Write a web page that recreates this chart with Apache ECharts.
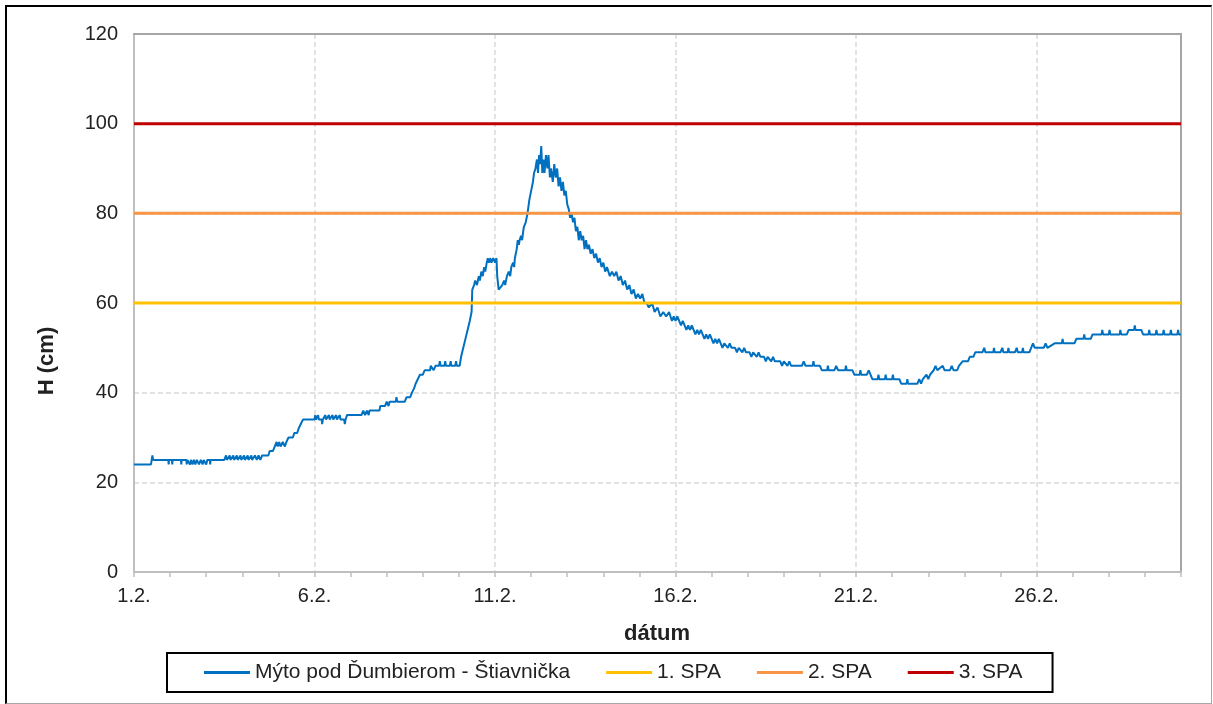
<!DOCTYPE html>
<html><head><meta charset="utf-8">
<script src="https://cdn.jsdelivr.net/npm/echarts@6/dist/echarts.min.js"></script>
<style>
html,body{margin:0;padding:0;background:#fff;}
#c{position:absolute;left:0;top:0;width:1213px;height:704px;}
#frame{position:absolute;left:5px;top:5px;width:1207px;height:699px;box-sizing:border-box;border-top:2px solid #000;border-left:2px solid #000;border-right:1px solid #a6a6a6;border-bottom:1px solid #a6a6a6;pointer-events:none;}
</style></head><body>
<div id="c"></div><div id="frame"></div>
<script>
// x = days after 1.2. ; y = water level H (cm)
const tickLabels = ['1.2.', '6.2.', '11.2.', '16.2.', '21.2.', '26.2.'];
const seriesName = 'Mýto pod Ďumbierom - Štiavnička';
const spaNames = ['1. SPA', '2. SPA', '3. SPA'];
const spaLevels = [60, 80, 100];
const spaColors = ['#FFC000', '#F79646', '#C00000'];

const levelSeries = [
[0,24],[0.47,24],[0.49,25],[0.51,26],[0.53,25],[0.95,25],[0.96,24],[0.97,25],[1.05,25],[1.06,24],[1.07,25],
[1.3,25],[1.31,24],[1.32,25],[1.45,25],[1.46,24],[1.48,25],[1.55,24],[1.58,25],[1.62,24],[1.66,25],[1.7,24],
[1.74,25],[1.8,24],[1.85,25],[1.9,24],[1.93,25],[2.0,24],[2.03,25],[2.1,25],[2.11,24],[2.12,25],[2.5,25],
[2.55,26],[2.57,25],[2.65,26],[2.67,25],[2.75,26],[2.77,25],[2.85,26],[2.87,25],[2.95,26],[2.97,25],[3.05,26],
[3.07,25],[3.15,26],[3.17,25],[3.25,26],[3.27,25],[3.35,26],[3.4,25],[3.45,26],[3.5,25],[3.55,26],[3.72,26],
[3.76,27],[3.85,27],[3.9,28],[3.95,29],[3.98,28],[4.02,29],[4.06,28],[4.12,29],[4.18,28],[4.22,29],[4.28,30],
[4.4,30],[4.44,31],[4.52,31],[4.56,32],[4.62,33],[4.68,34],[5.0,34],[5.02,35],[5.04,34],[5.1,35],[5.12,34],
[5.2,34],[5.21,33],[5.23,34],[5.3,35],[5.32,34],[5.4,35],[5.42,34],[5.5,35],[5.52,34],[5.6,35],[5.62,34],
[5.7,35],[5.72,34],[5.82,34],[5.84,33],[5.86,34],[5.9,35],[6.3,35],[6.35,36],[6.4,35],[6.45,36],[6.5,35],
[6.52,36],[6.8,36],[6.82,37],[6.95,37],[7.0,38],[7.05,37],[7.08,38],[7.25,38],[7.27,39],[7.29,38],[7.5,38],
[7.55,39],[7.65,39],[7.7,40],[7.76,41],[7.8,42],[7.86,43],[7.92,44],[8.0,44],[8.05,45],[8.2,45],[8.22,46],
[8.3,45],[8.35,46],[8.45,46],[8.47,47],[8.49,46],[8.6,46],[8.62,47],[8.64,46],[8.75,46],[8.77,47],[8.79,46],
[8.9,46],[8.92,47],[8.94,46],[9.02,46],[9.06,48],[9.12,50],[9.18,52],[9.24,54],[9.3,56],[9.35,58],[9.37,63],
[9.42,64],[9.45,65],[9.5,64],[9.55,66],[9.58,65],[9.62,67],[9.66,66],[9.7,68],[9.73,67],[9.77,69],[9.8,70],
[9.83,69],[9.87,70],[9.9,69],[9.95,70],[10.0,69],[10.04,70],[10.06,66],[10.1,63],[10.15,63],[10.2,64],
[10.25,65],[10.28,64],[10.33,66],[10.38,67],[10.42,66],[10.45,68],[10.5,69],[10.53,68],[10.55,70],[10.6,72],
[10.63,74],[10.66,73],[10.68,74],[10.72,75],[10.75,74],[10.78,76],[10.8,77],[10.85,78],[10.9,80],[10.95,83],
[11.0,85],[11.05,87],[11.08,89],[11.12,90],[11.16,92],
[11.19,89],[11.22,93],[11.25,91],[11.28,95],[11.31,89],[11.34,92],[11.37,89],[11.41,93],[11.45,90],[11.48,93],
[11.52,88],[11.55,90],[11.6,87],[11.64,91],[11.68,88],[11.72,90],[11.76,86],[11.8,88],[11.84,85],[11.88,87],
[11.92,84],[11.96,85],[12.0,82],[12.04,81],[12.08,79],[12.12,80],[12.16,78],[12.2,79],[12.24,76],[12.28,77],
[12.32,74],[12.36,76],[12.4,74],[12.44,75],[12.48,72],[12.52,74],[12.56,72],[12.6,73],[12.65,71],[12.7,72],
[12.75,70],[12.8,71],[12.85,69],[12.9,70],[12.95,68],[13.0,69],[13.05,67],[13.1,68],[13.18,66],[13.24,67],
[13.3,66],[13.36,67],[13.42,65],[13.48,66],[13.54,64],[13.6,65],[13.66,63],[13.72,64],[13.78,62],[13.84,63],
[13.9,61],[13.96,62],[14.02,61],[14.08,62],[14.14,60],[14.2,60],[14.26,59],[14.35,60],[14.42,58],[14.5,59],
[14.58,57],[14.66,58],[14.74,57],[14.82,58],
[14.9,56],[14.95,57],[15.0,56],[15.05,57],[15.1,56],[15.15,55],[15.2,56],[15.25,55],[15.3,54],[15.35,55],
[15.4,54],[15.45,55],[15.5,54],[15.55,53],[15.6,54],[15.65,53],[15.7,54],[15.75,53],[15.8,52],[15.85,53],
[15.9,52],[15.95,53],[16.0,52],[16.05,51],[16.1,52],[16.15,51],[16.2,52],[16.25,51],[16.3,50],[16.35,51],
[16.45,50],[16.5,51],[16.55,50],[16.65,50],[16.7,49],[16.75,50],[16.85,49],[16.9,50],[16.95,49],[17.05,49],
[17.1,48],[17.15,49],[17.25,48],[17.3,49],[17.35,48],[17.45,48],[17.5,47],[17.55,48],[17.65,47],[17.7,48],
[17.75,47],[17.9,47],[17.95,46],[18.0,47],[18.1,46],[18.15,47],[18.2,46],[18.5,46],
[18.55,47],[18.6,46],[18.8,46],[18.82,47],[18.84,46],[19.0,46],[19.05,45],[19.2,45],[19.22,46],[19.24,45],
[19.4,45],[19.45,46],[19.5,45],[19.7,45],[19.72,46],[19.74,45],[19.9,45],[19.95,44],[20.1,44],[20.12,45],
[20.14,44],[20.3,44],[20.35,45],[20.4,44],[20.45,43],[20.6,43],[20.62,44],[20.64,43],[20.8,43],[20.82,44],
[20.84,43],[21.0,43],[21.02,44],[21.04,43],[21.2,43],[21.25,42],[21.4,42],[21.42,43],[21.44,42],[21.7,42],
[21.75,43],[21.8,42],[21.85,43],[21.95,44],[22.0,43],[22.05,44],[22.15,45],[22.2,46],[22.25,45],[22.4,46],
[22.45,45],[22.6,45],[22.65,46],[22.7,45],[22.8,45],[22.85,46],[22.95,47],[23.1,47],[23.15,48],[23.25,48],
[23.3,49],[23.5,49],[23.55,50],[23.58,49],[23.8,49],[23.82,50],[23.84,49],[24.0,49],[24.05,50],[24.08,49],
[24.2,49],[24.22,50],[24.24,49],[24.4,49],[24.45,50],[24.48,49],[24.6,49],[24.62,50],[24.64,49],[24.8,49],
[24.85,50],[24.9,51],[24.95,50],[25.2,50],[25.25,51],[25.3,50],[25.5,51],[25.7,51],[25.72,52],[25.74,51],
[26.05,51],[26.1,52],[26.3,52],[26.32,53],[26.34,52],[26.5,52],[26.55,53],[26.8,53],[26.82,54],[26.84,53],
[27.0,53],[27.02,54],[27.04,53],[27.3,53],[27.32,54],[27.34,53],[27.5,53],[27.55,54],[27.7,54],[27.72,55],
[27.74,54],[27.9,54],[27.95,53],[28.1,53],[28.12,54],[28.14,53],[28.3,53],[28.32,54],[28.34,53],[28.5,53],
[28.52,54],[28.54,53],[28.7,53],[28.72,54],[28.74,53],[28.9,53],[28.92,54],[28.94,53],[29,53]
];

const chart = echarts.init(document.getElementById('c'), null, {renderer: 'canvas'});
const font = 'Liberation Sans, Arial, sans-serif';
const gridLine = {color: '#d9d9d9', width: 1.5, type: [5, 3]};

const series = [{
  name: seriesName, type: 'line', data: levelSeries, showSymbol: false, symbol: 'none',
  xAxisIndex: 0, yAxisIndex: 0,
  lineStyle: {color: '#0070C0', width: 2}, itemStyle: {color: '#0070C0'}
}];
spaLevels.forEach((lv, i) => {
  series.push({
    name: spaNames[i], type: 'line', data: [[0, lv], [29, lv]], showSymbol: false, symbol: 'none',
    xAxisIndex: 0, yAxisIndex: 0,
    lineStyle: {color: spaColors[i], width: 3}, itemStyle: {color: spaColors[i]}
  });
});

chart.setOption({
  animation: false,
  textStyle: {fontFamily: font},
  grid: {left: 134, top: 34, right: 32, bottom: 132},
  legend: {
    left: 167, top: 653, padding: [8, 30, 8, 37], itemGap: 36, itemWidth: 46, itemHeight: 3,
    icon: 'rect',
    borderColor: '#000', borderWidth: 2, backgroundColor: '#fff',
    textStyle: {fontSize: 21, color: '#222', lineHeight: 23, fontFamily: font},
    data: [seriesName].concat(spaNames)
  },
  xAxis: [
    {type: 'value', min: 0, max: 29, interval: 1, position: 'bottom',
     axisLine: {onZero: false, lineStyle: {color: '#bfbfbf', width: 2}},
     axisTick: {show: true, length: 5, lineStyle: {color: '#bfbfbf', width: 1.5}},
     axisLabel: {formatter: v => (v % 5 === 0 ? tickLabels[v / 5] : ''), fontSize: 20, color: '#222', margin: 14, fontFamily: font},
     splitLine: {show: false}},
    {type: 'value', min: 0, max: 29, interval: 5, position: 'bottom',
     axisLine: {show: false, onZero: false}, axisTick: {show: false}, axisLabel: {show: false},
     splitLine: {show: true, showMinLine: false, showMaxLine: false, lineStyle: gridLine}},
    {type: 'value', min: 0, max: 29, position: 'top',
     axisLine: {show: true, onZero: false, lineStyle: {color: '#a6a6a6', width: 2}},
     axisTick: {show: false}, axisLabel: {show: false}, splitLine: {show: false}}
  ],
  yAxis: [
    {type: 'value', min: 0, max: 120, interval: 20,
     axisLine: {show: true, onZero: false, lineStyle: {color: '#bfbfbf', width: 2}},
     axisTick: {show: false},
     axisLabel: {fontSize: 20, color: '#222', margin: 16, fontFamily: font},
     splitLine: {show: true, showMinLine: false, showMaxLine: false, lineStyle: gridLine}},
    {type: 'value', min: 0, max: 120, position: 'right',
     axisLine: {show: true, onZero: false, lineStyle: {color: '#a6a6a6', width: 2}},
     axisTick: {show: false}, axisLabel: {show: false}, splitLine: {show: false}}
  ],
  graphic: [
    {type: 'text', x: 47, y: 361, rotation: Math.PI / 2,
     style: {text: 'H (cm)', font: 'bold 22px ' + font, fill: '#222', align: 'center', verticalAlign: 'middle'}},
    {type: 'text', x: 657, y: 634,
     style: {text: 'dátum', font: 'bold 22px ' + font, fill: '#222', align: 'center', verticalAlign: 'middle'}}
  ],
  series: series
});
</script>
</body></html>
